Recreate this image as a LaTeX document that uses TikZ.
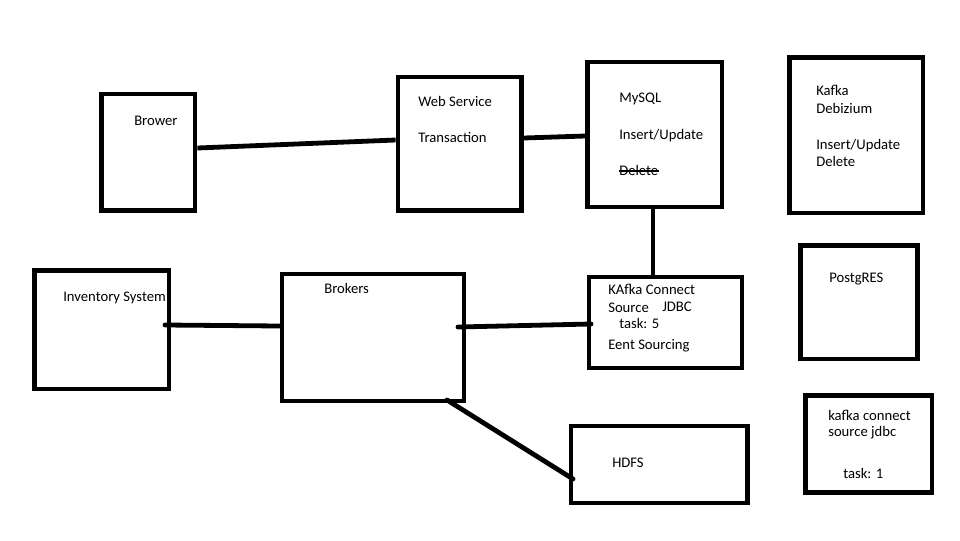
\documentclass[tikz,border=0pt]{standalone}
\usepackage{fontspec}
\setmainfont{Carlito}
\usetikzlibrary{positioning}
\tikzset{box/.style 2 args={draw, line width=3.6pt, inner sep=0pt,
                            minimum width=#1*0.75pt, minimum height=#2*0.75pt}}
\tikzset{txt/.style={anchor=base west, inner sep=0pt, font=\fontsize{11}{13}\selectfont}}
\tikzset{wire/.style={line width=3.6pt}}
\tikzset{dotwire/.style={wire, line cap=round}}

\begin{document}
\begin{tikzpicture}[x=0.75pt, y=-0.75pt]
			\useasboundingbox (0,0) rectangle (960,540);
			% boxes
			\node [box={93.5}{116.5}] (brower) at (148.25, 152.25) {};
			\node [box={123.5}{133.5}] (web) at (459.75, 143.75) {};
			\node [box={134.5}{145}] (mysql) at (654.75, 134.5) {};
			\node [box={133.5}{155.5}] (debezium) at (856.25, 135.25) {};
			\node [box={134.5}{118.5}] (inventory) at (101.75, 329.75) {};
			\node [box={182}{127}] (brokers) at (373, 337.5) {};
			\node [box={153}{91}] (connect) at (665.5, 322.5) {};
			\node [box={117}{113.5}] (postgres) at (859, 302.25) {};
			\node [box={176.5}{77}] (hdfs) at (659.25, 464.5) {};
			\node [box={126.5}{97}] (jdbc) at (868.75, 444) {};
			% labels
			\node [txt] (brower1) at (134, 125.5) {Brower};
			\node [txt] (web1) at (418, 106.5) {Web Service};
			\node [txt] (web2) at (418, 142.5) {Transaction};
			\node [txt] (mysql1) at (619, 102.5) {MySQL};
			\node [txt] (mysql2) at (619, 139.5) {Insert/Update};
			\node [txt] (mysql3) at (619, 175.5) {Delete};
			\draw [line width=0.8pt] ([yshift=3.4pt]mysql3.base west) to ([yshift=3.4pt]mysql3.base east);
			\node [txt] (debezium1) at (816, 95.5) {Kafka};
			\node [txt] (debezium2) at (816, 113.5) {Debizium};
			\node [txt] (debezium3) at (816, 149.5) {Insert/Update};
			\node [txt] (debezium4) at (816, 166.5) {Delete};
			\node [txt] (postgres1) at (829, 282.5) {PostgRES};
			\node [txt] (jdbc1) at (828, 420.5) {kafka connect};
			\node [txt] (jdbc2) at (828, 436.5) {source jdbc};
			\node [txt] (jdbc3) at (843, 478.5) {task: 1};
			\node [txt] (inventory1) at (63, 301.5) {Inventory System};
			\node [txt] (brokers1) at (324, 293.5) {Brokers};
			\node [txt] (connect1) at (608, 294.5) {KAfka Connect};
			\node [txt] (connect2) at (608, 312.5) {Source};
			\node [txt] (connect3) at (662, 311.5) {JDBC};
			\node [txt] (connect4) at (619, 328.5) {task: 5};
			\node [txt] (connect5) at (608, 349.5) {Eent Sourcing};
			\node [txt] (hdfs1) at (612, 467.5) {HDFS};
			% wire ends
			\coordinate (invdot) at (165, 325);
			\coordinate (brkdot) at (458, 327);
			\coordinate (condot) at (591, 324);
			\coordinate (brkcorner) at (447, 400);
			\coordinate (hdfsdot) at (573, 479);
			% wires
			\draw [wire] (brower.east |- 0,148) to (web.west |- 0,140);
			\draw [wire] (web.east |- 0,138) to (mysql.west |- 0,136);
			\draw [wire] (mysql.south -| 653,0) to (connect.north -| 653,0);
			\draw [dotwire] (invdot) to (brokers.west |- 0,326);
			\draw [dotwire] (brkdot) to (condot);
			\draw [dotwire] (brkcorner) to (hdfsdot);
		\end{tikzpicture}
\end{document}
